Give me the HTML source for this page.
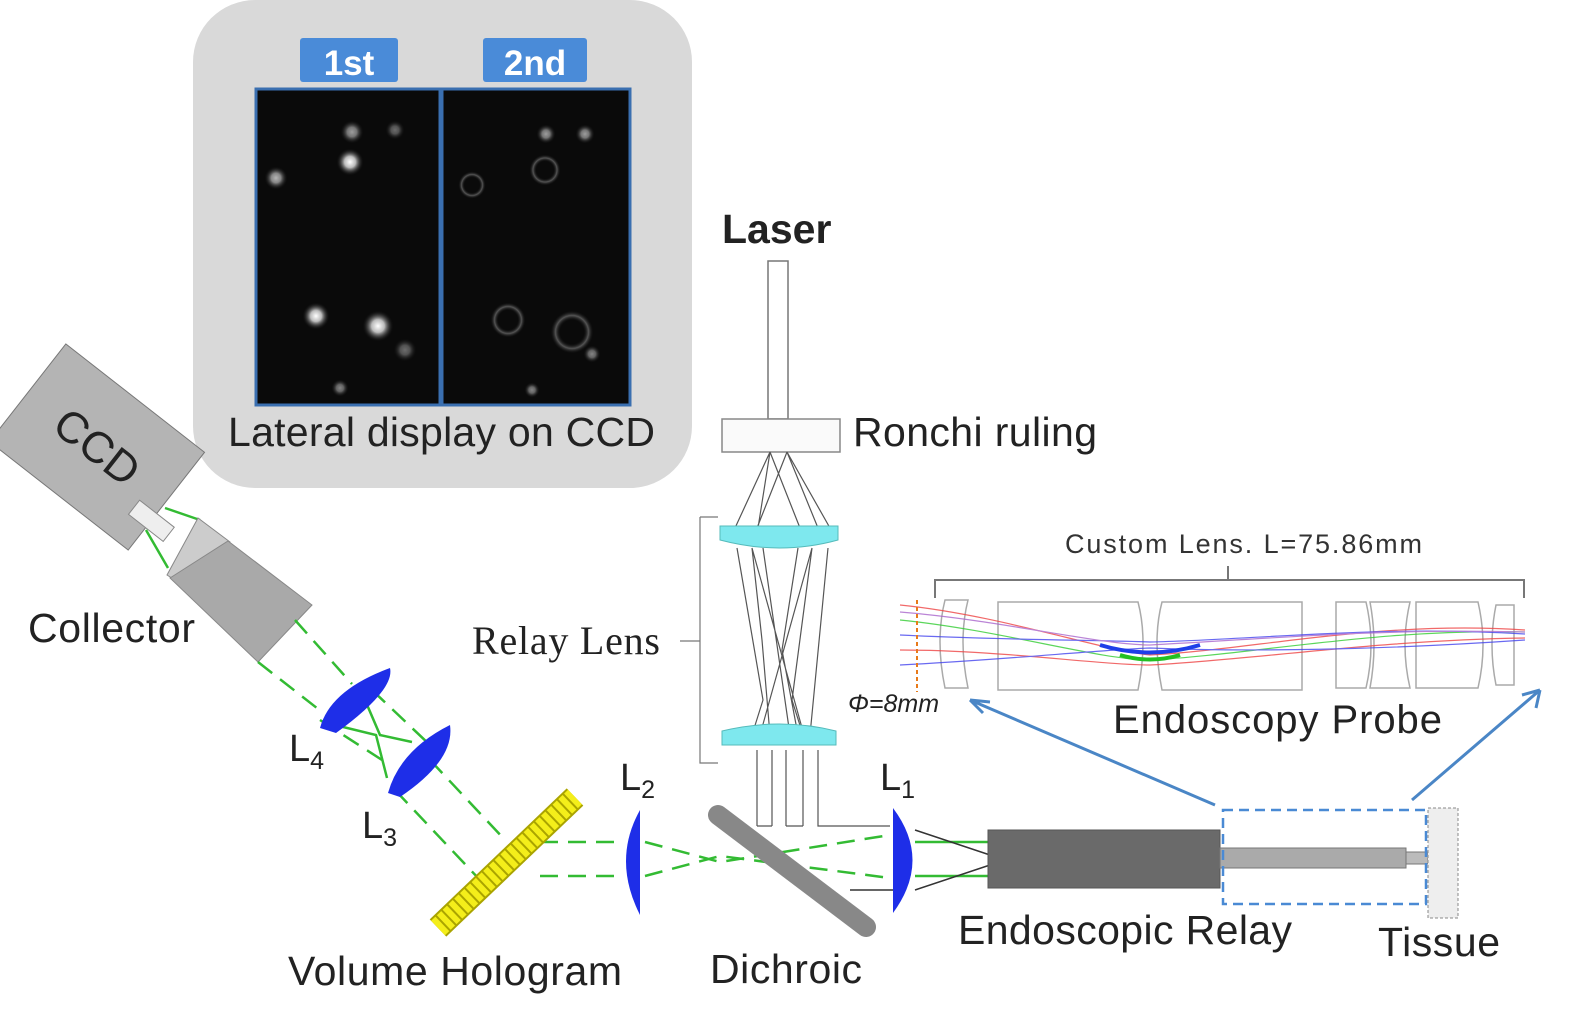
<!DOCTYPE html>
<html><head><style>html,body{margin:0;padding:0;background:#fff}svg{display:block}text{font-family:"Liberation Sans",sans-serif}</style></head>
<body>
<svg width="1594" height="1019" viewBox="0 0 1594 1019" xmlns="http://www.w3.org/2000/svg">
<defs>
<radialGradient id="s"><stop offset="0" stop-color="#fff"/><stop offset="0.4" stop-color="#bbb"/><stop offset="1" stop-color="#000" stop-opacity="0"/></radialGradient>
<radialGradient id="r"><stop offset="0.5" stop-color="#000" stop-opacity="0"/><stop offset="0.75" stop-color="#555"/><stop offset="1" stop-color="#000" stop-opacity="0"/></radialGradient>
</defs>
<!-- inset -->
<rect x="193" y="0" width="499" height="488" rx="62" fill="#d9d9d9"/>
<rect x="300" y="38" width="98" height="44" rx="3" fill="#4a8bd8"/>
<rect x="483" y="38" width="104" height="44" rx="3" fill="#4a8bd8"/>
<text x="349" y="75" font-size="35" font-weight="bold" fill="#fff" text-anchor="middle">1st</text>
<text x="535" y="75" font-size="35" font-weight="bold" fill="#fff" text-anchor="middle">2nd</text>
<rect x="256" y="89" width="184" height="316" fill="#0a0a0a" stroke="#3a6fb0" stroke-width="3"/>
<rect x="442" y="89" width="188" height="316" fill="#0a0a0a" stroke="#3a6fb0" stroke-width="3"/>
<circle cx="350" cy="162" r="14" fill="url(#s)"/><circle cx="352" cy="132" r="12" fill="url(#s)" opacity=".6"/><circle cx="395" cy="130" r="10" fill="url(#s)" opacity=".4"/>
<circle cx="276" cy="178" r="12" fill="url(#s)" opacity=".7"/><circle cx="316" cy="316" r="14" fill="url(#s)"/><circle cx="378" cy="326" r="16" fill="url(#s)"/>
<circle cx="405" cy="350" r="12" fill="url(#s)" opacity=".4"/><circle cx="340" cy="388" r="9" fill="url(#s)" opacity=".5"/>
<circle cx="546" cy="134" r="10" fill="url(#s)" opacity=".6"/><circle cx="585" cy="134" r="10" fill="url(#s)" opacity=".6"/><circle cx="545" cy="170" r="16" fill="url(#r)"/>
<circle cx="472" cy="185" r="14" fill="url(#r)"/><circle cx="508" cy="320" r="18" fill="url(#r)"/><circle cx="572" cy="332" r="22" fill="url(#r)"/>
<circle cx="592" cy="354" r="9" fill="url(#s)" opacity=".5"/><circle cx="532" cy="390" r="8" fill="url(#s)" opacity=".5"/>
<text x="228" y="446" font-size="41" fill="#222" textLength="427">Lateral display on CCD</text>
<!-- laser / ronchi -->
<text x="722" y="243" font-size="41" font-weight="bold" fill="#222">Laser</text>
<rect x="768" y="261" width="20" height="158" fill="#fff" stroke="#777" stroke-width="1.5"/>
<rect x="722" y="419" width="118" height="33" fill="#fafafa" stroke="#888" stroke-width="1.5"/>
<text x="853" y="446" font-size="41" fill="#222" textLength="244">Ronchi ruling</text>
<g stroke="#555" stroke-width="1.2" fill="none">
<path d="M770 452 L758 528 M770 452 L735 528 M770 452 L800 528 M787 452 L818 528 M787 452 L757 528 M787 452 L830 528"/>
<path d="M737 548 L763 700 L752 735 M752 548 L762 640 L770 735 M763 548 L790 735 M798 548 L782 650 L798 735 M812 548 L792 700 L803 735 M828 548 L810 735 M752 548 L804 735 M812 548 L760 735"/>
<path d="M757 750 V826 M772 750 V826 M786 750 V826 M803 750 V826 M818 750 V826 H890 M757 826 H772 M786 826 H803"/>
<path d="M700 517 H718 M700 517 V763 H718 M680 641 H700" stroke="#777"/>
</g>
<path d="M720 526 H838 V540 Q780 556 720 540 Z" fill="#7ee8ee" stroke="#5bb" stroke-width="1"/>
<path d="M722 745 H836 V731 Q780 717 722 731 Z" fill="#7ee8ee" stroke="#5bb" stroke-width="1"/>
<text x="472" y="654" font-size="40" style="font-family:'Liberation Serif',serif" fill="#222" textLength="188">Relay Lens</text>
<!-- CCD & collector -->
<g transform="translate(97,447) rotate(38)">
<rect x="-88" y="-62" width="176" height="124" fill="#b4b4b4" stroke="#777"/>
<text x="0" y="15" font-size="44" fill="#222" text-anchor="middle">CCD</text>
</g>
<g transform="translate(152,520) rotate(38)"><rect x="-22" y="-8" width="44" height="18" fill="#eee" stroke="#888"/></g>
<g stroke="#33bb33" stroke-width="2.5" fill="none"><path d="M165 508 L200 520 M146 530 L168 568"/></g>
<polygon points="167,575 198,518 230,542 200,596" fill="#ccc" stroke="#888"/>
<polygon points="170,578 228,541 312,605 258,662" fill="#a9a9a9" stroke="#888"/>
<text x="28" y="642" font-size="41" fill="#222" textLength="167">Collector</text>
<g stroke="#33bb33" stroke-width="2.5" fill="none" stroke-dasharray="18 10">
<path d="M295 620 L352 684 M258 662 L322 712 M372 690 L430 745 M320 720 L382 760"/>
<path d="M430 760 L505 840 M395 790 L480 880"/>
<path d="M540 842 H620 M540 876 H620 M645 842 L720 862 L890 835 M645 876 L720 856 L890 878"/>
</g>
<g stroke="#33bb33" stroke-width="2.5" fill="none"><path d="M365 700 L380 735 L412 742 M335 725 L376 735 L387 778"/></g>
<path d="M320 728 Q330 690 390 668 Q395 690 336 733 Z" fill="#1e2ee8"/>
<path d="M388 793 Q400 750 450 725 Q455 760 400 797 Z" fill="#1e2ee8"/>
<text x="289" y="761" font-size="38" fill="#222">L<tspan font-size="25" dy="8">4</tspan></text>
<text x="362" y="838" font-size="38" fill="#222">L<tspan font-size="25" dy="8">3</tspan></text>
<!-- hologram -->
<line x1="438" y1="928" x2="575" y2="797" stroke="#aaa400" stroke-width="24"/>
<line x1="438" y1="928" x2="575" y2="797" stroke="#f4ee1a" stroke-width="20" stroke-dasharray="6 2"/>
<text x="288" y="985" font-size="41" fill="#222" textLength="334">Volume Hologram</text>
<!-- L2 -->
<path d="M640 810 Q612 860 640 915 Z" fill="#1e2ee8"/>
<text x="620" y="790" font-size="38" fill="#222">L<tspan font-size="25" dy="8">2</tspan></text>
<!-- dichroic -->
<line x1="718" y1="815" x2="866" y2="927" stroke="#888" stroke-width="20" stroke-linecap="round"/>
<text x="710" y="983" font-size="41" fill="#222" textLength="152">Dichroic</text>
<!-- L1 -->
<path d="M893 808 Q932 860 893 913 Z" fill="#1e2ee8"/>
<text x="880" y="790" font-size="38" fill="#222">L<tspan font-size="25" dy="8">1</tspan></text>
<g stroke="#33bb33" stroke-width="2.5"><path d="M915 842 H990 M915 876 H990"/></g>
<g stroke="#333" stroke-width="1.5" fill="none"><path d="M915 830 L990 855 M915 890 L990 865 M850 890 H893"/></g>
<!-- endoscopic relay -->
<rect x="988" y="830" width="232" height="58" fill="#6a6a6a" stroke="#555"/>
<rect x="1220" y="848" width="186" height="20" fill="#aaa" stroke="#777"/>
<rect x="1406" y="852" width="22" height="12" fill="#bbb" stroke="#777"/>
<rect x="1428" y="808" width="30" height="110" fill="#eee" stroke="#888" stroke-dasharray="3 2"/>
<rect x="1223" y="810" width="203" height="94" fill="none" stroke="#4a8ad4" stroke-width="2.5" stroke-dasharray="10 6"/>
<text x="958" y="944" font-size="41" fill="#222" textLength="334">Endoscopic Relay</text>
<text x="1378" y="956" font-size="41" fill="#222" textLength="122">Tissue</text>
<!-- arrows -->
<g stroke="#4a86c6" stroke-width="3" fill="none">
<path d="M1215 805 L970 700 M970 700 L990 702 M970 700 L983 713"/>
<path d="M1412 800 L1540 690 M1540 690 L1522 695 M1540 690 L1536 708"/>
</g>
<!-- probe -->
<text x="1065" y="553" font-size="27" fill="#333" textLength="357">Custom Lens. L=75.86mm</text>
<path d="M935 598 V580 H1228 V566 M1228 580 H1524 V598" stroke="#777" stroke-width="2" fill="none"/>
<g stroke="#aaa" stroke-width="1.5" fill="none">
<path d="M945 600 H968 Q958 640 968 688 H945 Q935 640 945 600 Z"/>
<path d="M998 602 H1138 Q1148 640 1138 690 H998 Z"/>
<path d="M1162 602 H1302 V690 H1162 Q1152 640 1162 602 Z"/>
<path d="M1336 602 H1366 Q1376 645 1366 688 H1336 Z"/>
<path d="M1370 602 H1410 Q1400 645 1410 688 H1370 Q1378 645 1370 602 Z"/>
<path d="M1416 602 H1478 Q1488 645 1478 688 H1416 Z"/>
<path d="M1496 605 H1514 V685 H1496 Q1488 645 1496 605 Z"/>
</g>
<g fill="none" stroke-width="1.2" opacity=".8">
<path d="M900 605 C1000 615 1100 650 1150 655 C1250 650 1380 620 1525 630" stroke="#e44"/>
<path d="M900 620 C1000 630 1100 660 1150 660 C1250 655 1380 628 1525 632" stroke="#3c3"/>
<path d="M900 635 C1000 640 1100 640 1150 642 C1250 640 1380 625 1525 634" stroke="#44e"/>
<path d="M900 650 C1000 650 1100 665 1150 665 C1250 660 1380 640 1525 638" stroke="#e44"/>
<path d="M900 665 C1000 660 1100 650 1150 648 C1250 652 1380 650 1525 640" stroke="#44e"/>
<path d="M900 612 C1000 620 1100 645 1150 645 C1250 640 1380 628 1525 632" stroke="#a6c"/>
</g>
<path d="M1100 645 Q1150 660 1200 645" stroke="#1e3ee8" stroke-width="4" fill="none"/>
<path d="M1120 655 Q1150 664 1180 655" stroke="#22c022" stroke-width="4" fill="none"/>
<line x1="917" y1="600" x2="917" y2="692" stroke="#e87a1a" stroke-width="2" stroke-dasharray="4 3"/>
<text x="848" y="712" font-size="25" font-style="italic" fill="#222">Φ=8mm</text>
<text x="1113" y="733" font-size="40" fill="#222" textLength="329">Endoscopy Probe</text>
</svg>
</body></html>
